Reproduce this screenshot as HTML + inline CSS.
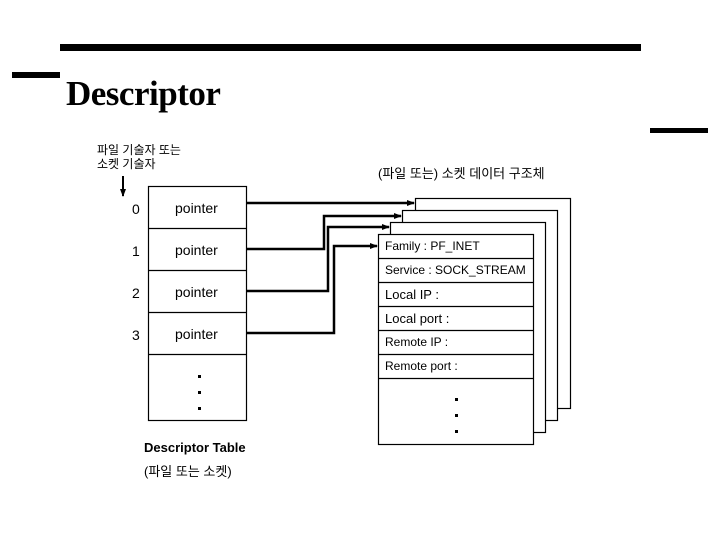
<!DOCTYPE html>
<html><head><meta charset="utf-8"><style>
body{margin:0;background:#fff;width:720px;height:540px;overflow:hidden;position:relative;font-family:"Liberation Sans","Noto Sans CJK KR",sans-serif;}
.t{position:absolute;white-space:nowrap;color:#000}
</style></head><body>
<svg width="720" height="540" style="position:absolute;left:0;top:0">
<defs><marker id="a" markerWidth="8" markerHeight="6" refX="7" refY="3" orient="auto" markerUnits="userSpaceOnUse"><path d="M0,0L8,3L0,6z" fill="#000"/></marker></defs>
<rect x="60" y="44" width="581" height="7" fill="#000"/>
<rect x="12" y="72" width="48" height="6" fill="#000"/>
<rect x="650" y="128" width="58" height="5" fill="#000"/>
<line x1="123" y1="176" x2="123" y2="196" stroke="#000" stroke-width="2" marker-end="url(#a)"/>
<g fill="#fff" stroke="#000" stroke-width="1.2">
<rect x="148.5" y="186.5" width="98" height="234"/>
<line x1="148" y1="228.5" x2="246" y2="228.5"/>
<line x1="148" y1="270.5" x2="246" y2="270.5"/>
<line x1="148" y1="312.5" x2="246" y2="312.5"/>
<line x1="148" y1="354.5" x2="246" y2="354.5"/>
<rect x="415.5" y="198.5" width="155" height="210"/>
<rect x="402.5" y="210.5" width="155" height="210"/>
<rect x="390.5" y="222.5" width="155" height="210"/>
<rect x="378.5" y="234.5" width="155" height="210"/>
<line x1="378" y1="258.5" x2="534" y2="258.5"/>
<line x1="378" y1="282.5" x2="534" y2="282.5"/>
<line x1="378" y1="306.5" x2="534" y2="306.5"/>
<line x1="378" y1="330.5" x2="534" y2="330.5"/>
<line x1="378" y1="354.5" x2="534" y2="354.5"/>
<line x1="378" y1="378.5" x2="534" y2="378.5"/>
</g>
<g fill="none" stroke="#000" stroke-width="2.5">
<polyline points="246,203 414,203" marker-end="url(#a)"/>
<polyline points="246,249 324,249 324,216 401,216" marker-end="url(#a)"/>
<polyline points="246,291 328,291 328,227 389,227" marker-end="url(#a)"/>
<polyline points="246,333 334,333 334,246 377,246" marker-end="url(#a)"/>
</g>
<g fill="#000">
<rect x="198" y="375" width="3" height="3"/><rect x="198" y="391" width="3" height="3"/><rect x="198" y="407" width="3" height="3"/>
<rect x="455" y="398" width="3" height="3"/><rect x="455" y="414" width="3" height="3"/><rect x="455" y="430" width="3" height="3"/>
</g>
</svg>
<div class="t" style="left:66px;top:74px;font:bold 35px 'Liberation Serif',serif;letter-spacing:-0.5px">Descriptor</div>
<div class="t" style="left:97px;top:143px;font-size:12px;line-height:14px">파일 기술자 또는<br>소켓 기술자</div>
<div class="t" style="left:378px;top:163px;font-size:13px">(파일 또는) 소켓 데이터 구조체</div>
<div class="t" style="left:132px;top:201px;font-size:14px">0</div>
<div class="t" style="left:132px;top:243px;font-size:14px">1</div>
<div class="t" style="left:132px;top:285px;font-size:14px">2</div>
<div class="t" style="left:132px;top:327px;font-size:14px">3</div>
<div class="t" style="left:175px;top:200px;font-size:14px">pointer</div>
<div class="t" style="left:175px;top:242px;font-size:14px">pointer</div>
<div class="t" style="left:175px;top:284px;font-size:14px">pointer</div>
<div class="t" style="left:175px;top:326px;font-size:14px">pointer</div>
<div class="t" style="left:144px;top:440px;font-size:13px;font-weight:bold">Descriptor Table</div>
<div class="t" style="left:144px;top:461px;font-size:13px">(파일 또는 소켓)</div>
<div class="t" style="left:385px;top:239px;font-size:12px">Family : PF_INET</div>
<div class="t" style="left:385px;top:263px;font-size:12px">Service : SOCK_STREAM</div>
<div class="t" style="left:385px;top:287px;font-size:13px">Local IP :</div>
<div class="t" style="left:385px;top:311px;font-size:13px">Local port :</div>
<div class="t" style="left:385px;top:335px;font-size:12px">Remote IP :</div>
<div class="t" style="left:385px;top:359px;font-size:12px">Remote port :</div>
</body></html>
